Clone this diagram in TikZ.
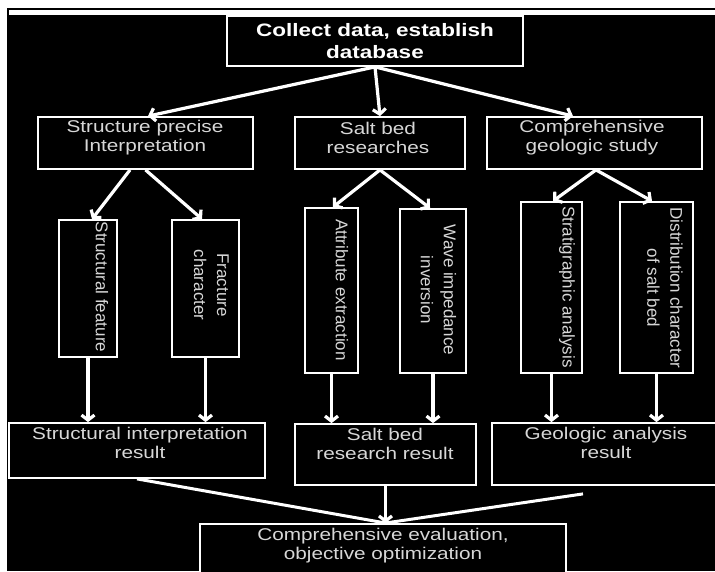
\documentclass[tikz,border=0pt]{standalone}
\usepackage{fontspec}
\setmainfont{Liberation Sans}
\newfontfamily\widefont[FakeStretch=1.22]{Liberation Sans}
\newfontfamily\topfont[FakeStretch=1.25]{Liberation Sans}
\usetikzlibrary{arrows.meta}
\definecolor{txtgray}{RGB}{215,215,215}

\begin{document}
\begin{tikzpicture}[x=1pt,y=-1pt,
  box/.style={draw=white,line width=1.8pt,fill=black,inner sep=0pt},
  htext/.style={text=txtgray,align=center,font=\widefont\fontsize{17}{19}\selectfont},
  vtext/.style={text=txtgray,align=center,rotate=-90,font=\fontsize{17}{23}\selectfont},
  arr/.style={white,line width=3.2pt,-{Straight Barb[length=5pt,width=13pt]}},
  plain/.style={white,line width=3pt}]

  \useasboundingbox (0,0) rectangle (715,571);
  \clip (0,0) rectangle (715,571);
  \fill[white] (0,0) rectangle (715,571);
  \fill[black] (7,8) rectangle (715,571);
  \fill[white] (9,9.5) rectangle (715,15);

  \node[box,minimum width=296,minimum height=50] (0) at (375,41){};
  \node[box,minimum width=215,minimum height=52] (1) at (145.5,143){};
  \node[box,minimum width=170,minimum height=52] (2) at (380,143){};
  \node[box,minimum width=215,minimum height=52] (3) at (594.5,143){};
  \node[box,minimum width=58,minimum height=137] (4) at (88,288.5){};
  \node[box,minimum width=67,minimum height=137] (5) at (205.5,288.5){};
  \node[box,minimum width=53,minimum height=165] (6) at (331.5,290.5){};
  \node[box,minimum width=66,minimum height=164] (7) at (433,291){};
  \node[box,minimum width=61,minimum height=171] (8) at (551.5,287.5){};
  \node[box,minimum width=73,minimum height=171] (9) at (656.5,287.5){};
  \node[box,minimum width=256,minimum height=55] (10) at (137,450.5){};
  \node[box,minimum width=181,minimum height=61] (11) at (385.5,454.5){};
  \node[box,minimum width=226,minimum height=62] (12) at (605,454){};
  \node[box,minimum width=366,minimum height=70] (13) at (383,559){};
  \coordinate (m) at (385.5,523);

  % texts
  \node[htext,text=white,font=\topfont\bfseries\fontsize{18}{22}\selectfont] (t0) at (375,41){Collect data, establish\\database};
  \node[htext] (t1) at (145,138){Structure precise\\Interpretation};
  \node[htext] (t2) at (378,138){Salt bed\\researches};
  \node[htext] (t3) at (592,138){Comprehensive\\geologic study};
  \node[vtext] (t4) at (102,287){Structural feature};
  \node[vtext] (t5) at (211.5,285){Fracture\\character};
  \node[vtext] (t6) at (342,290){Attribute extraction};
  \node[vtext] (t7) at (438.5,290){Wave impedance\\inversion};
  \node[vtext] (t8) at (567,287){Stratigraphic analysis};
  \node[vtext] (t9) at (665,288){Distribution character\\of salt bed};
  \node[htext] (t10) at (140,443){Structural interpretation\\result};
  \node[htext] (t11) at (385,444){Salt bed\\research result};
  \node[htext] (t12) at (606,443){Geologic analysis\\result};
  \node[htext] (t13) at (383,546){Comprehensive evaluation,\\objective optimization};

  \path[arr]
    (0.south) edge ([xshift=2.5]1.north)
    (0.south) edge (2.north)
    (0.south) edge ([xshift=-21.5]3.north)
    ([xshift=-15.5]1.south) edge ([xshift=4]4.north)
    (1.south) edge ([xshift=-3.5]5.north)
    (2.south) edge ([xshift=1.5]6.north)
    (2.south) edge ([xshift=-3]7.north)
    ([xshift=1.5]3.south) edge ([xshift=1.5]8.north)
    ([xshift=1.5]3.south) edge ([xshift=-4.5]9.north)
    (4.south) edge (4.south |- 10.north)
    (5.south) edge (5.south |- 10.north)
    (6.south) edge (6.south |- 11.north)
    (7.south) edge (7.south |- 11.north)
    (8.south) edge (8.south |- 12.north)
    (9.south) edge (9.south |- 12.north)
    (11.south) edge (m);
  \path[plain]
    (10.south) edge (m)
    ([xshift=-22,yshift=-8]12.south) edge (m);
\end{tikzpicture}
\end{document}
